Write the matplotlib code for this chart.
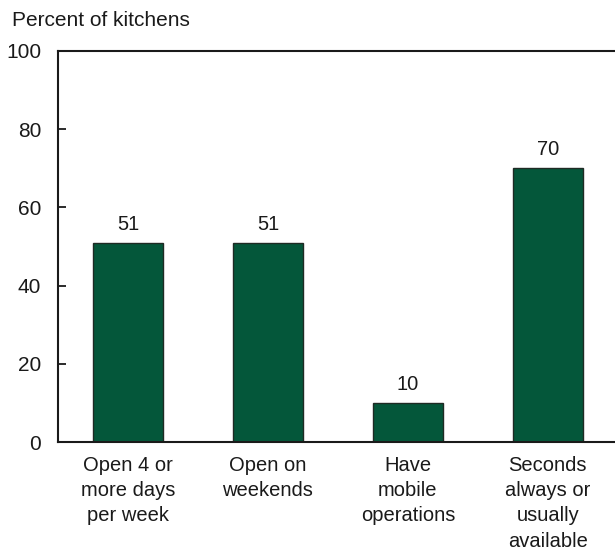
import matplotlib
matplotlib.use("Agg")
import matplotlib.pyplot as plt

categories = ["Open 4 or\nmore days\nper week", "Open on\nweekends", "Have\nmobile\noperations",
              "Seconds\nalways or\nusually\navailable"]
values = [51, 51, 10, 70]
yticks = [0, 20, 40, 60, 80, 100]

plt.rcParams['font.family'] = ['Liberation Sans', 'DejaVu Sans']

fig = plt.figure(figsize=(6.15, 5.52), dpi=100)
ax = fig.add_axes([58/615, 110/552, 1 - 58/615, 391/552])

x = list(range(len(values)))
bars = ax.bar(x, values, width=0.5, color="#04573A", edgecolor="#1f2a24", linewidth=1.0)
for xi, v in zip(x, values):
    ax.text(xi, v + 2.3, str(v), ha="center", va="bottom", fontsize=14.5, color="#1a1a1a")

ax.set_xlim(-0.5, 3.48)
ax.set_ylim(0, 100)
ax.set_yticks(yticks)
ax.set_xticks(x)
ax.set_xticklabels(categories, fontsize=14.5, color="#1a1a1a", linespacing=1.42)
ax.tick_params(axis="x", length=0, pad=10)
ax.tick_params(axis="y", direction="in", length=6, width=1.3, pad=12, labelsize=15,
               labelcolor="#1a1a1a", color="#1a1a1a")
for s in ["left", "bottom", "top"]:
    ax.spines[s].set_linewidth(1.5)
    ax.spines[s].set_color("#1a1a1a")
ax.spines["right"].set_visible(False)

fig.text(12/615, 1 - 21/552, "Percent of kitchens", ha="left", va="center", fontsize=15, color="#1a1a1a")

fig.savefig("out.png", dpi=100)
